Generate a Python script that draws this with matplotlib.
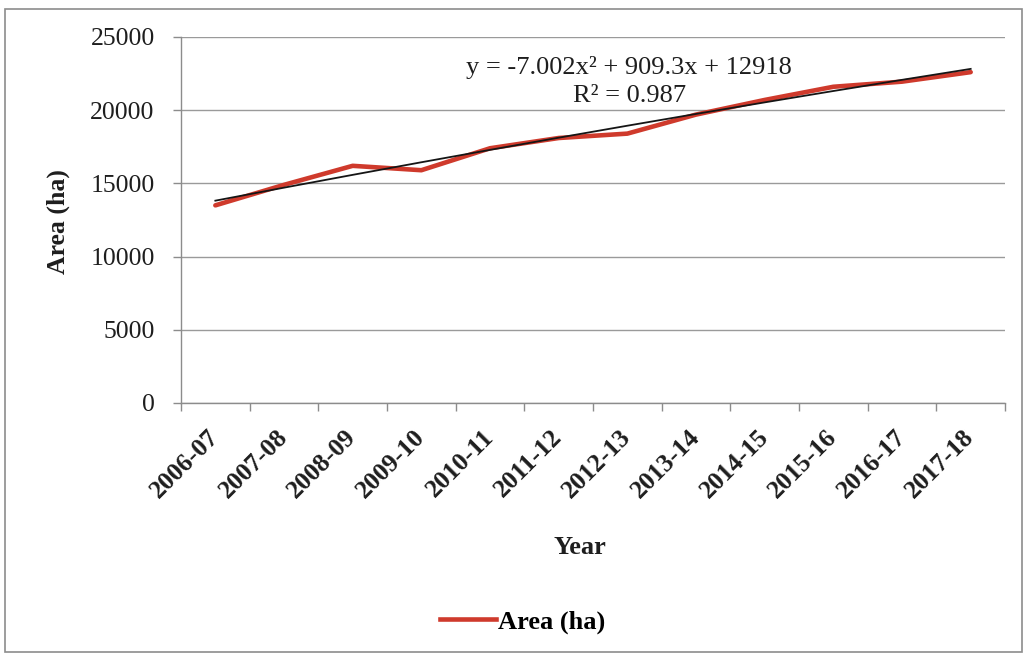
import numpy as np
import matplotlib
matplotlib.use("Agg")
import matplotlib.pyplot as plt
from matplotlib.patches import Rectangle
from matplotlib.lines import Line2D
from matplotlib.transforms import ScaledTranslation

years = ["2006-07", "2007-08", "2008-09", "2009-10", "2010-11", "2011-12",
         "2012-13", "2013-14", "2014-15", "2015-16", "2016-17", "2017-18"]
area_ha = [13500, 14900, 16200, 15900, 17400, 18100,
           18400, 19700, 20700, 21600, 21950, 22600]

# polynomial trend: y = a x^2 + b x + c, x = 1..n
trend_coef = [-7.002, 909.3, 12918]
r_squared = 0.987

plt.rcParams["font.family"] = ["Liberation Serif", "DejaVu Serif"]
TXT = "#1e1e1e"
AXC = "#8c8c8c"
RED = "#cf3a2c"

fig = plt.figure(figsize=(10.25, 6.56), dpi=100)
ax = fig.add_axes([0.1766, 0.3857, 0.8039, 0.5579])

x = np.arange(len(years))
ax.plot(x, area_ha, color=RED, lw=3.3, solid_capstyle="round",
        solid_joinstyle="round", zorder=3)

xt = np.arange(1, len(years) + 1)
trend = np.polyval(trend_coef, xt)
ax.plot(x, trend, color="#151515", lw=1.3, zorder=4)

ax.set_xlim(-0.5, len(years) - 0.5)
ax.set_ylim(0, 25000)
ax.set_yticks(np.arange(0, 25001, 5000))
ax.set_xticks(np.arange(-0.5, len(years), 1.0))
ax.set_xticklabels([])
ax.set_xticks(x, minor=True)
ax.set_xticklabels(years, minor=True, rotation=45, ha="right", va="center",
                   rotation_mode="anchor", fontsize=18.5, fontweight="bold",
                   color=TXT)
shift = ScaledTranslation(-4 / 100, 0, fig.dpi_scale_trans)
for lbl in ax.get_xticklabels(minor=True):
    lbl.set_transform(lbl.get_transform() + shift)
ax.tick_params(axis="x", which="minor", length=0, pad=22)
ax.tick_params(axis="x", which="major", length=6, color=AXC, width=1)
ax.tick_params(axis="y", length=6, color=AXC, width=1,
               labelsize=18.5, labelcolor=TXT, pad=13)

ax.grid(axis="y", color="#9a9a9a", lw=1.0)
ax.set_axisbelow(True)
for side in ("top", "right"):
    ax.spines[side].set_visible(False)
for side in ("left", "bottom"):
    ax.spines[side].set_color(AXC)
    ax.spines[side].set_linewidth(1.0)

fig.text(58 / 1025, 1 - 222 / 656, "Area (ha)", rotation=90, ha="center",
         va="center", fontsize=18.5, fontweight="bold", color=TXT)
fig.text(580 / 1025, 1 - 548 / 656, "Year", ha="center", va="center",
         fontsize=19, fontweight="bold", color=TXT)

eq1 = f"y = {trend_coef[0]:.3f}x² + {trend_coef[1]:.1f}x + {trend_coef[2]:.0f}"
eq2 = f"R² = {r_squared:.3f}"
ax.text(0.544, 0.918, eq1, transform=ax.transAxes, ha="center", va="center",
        fontsize=19, color=TXT)
ax.text(0.544, 0.839, eq2, transform=ax.transAxes, ha="center", va="center",
        fontsize=19, color=TXT)

handle = Line2D([], [], color=RED, lw=3.3)
fig.legend([handle], ["Area (ha)"], loc="center",
           bbox_to_anchor=(523 / 1025, 1 - 622 / 656),
           frameon=False, prop={"weight": "bold", "size": 19},
           handlelength=2.1, handletextpad=0.1, borderpad=0)

fig.patches.append(Rectangle((0.005, 0.006), 0.992, 0.981,
                             transform=fig.transFigure, fill=False,
                             edgecolor=AXC, lw=1.2))

fig.savefig("out.png", dpi=100)
